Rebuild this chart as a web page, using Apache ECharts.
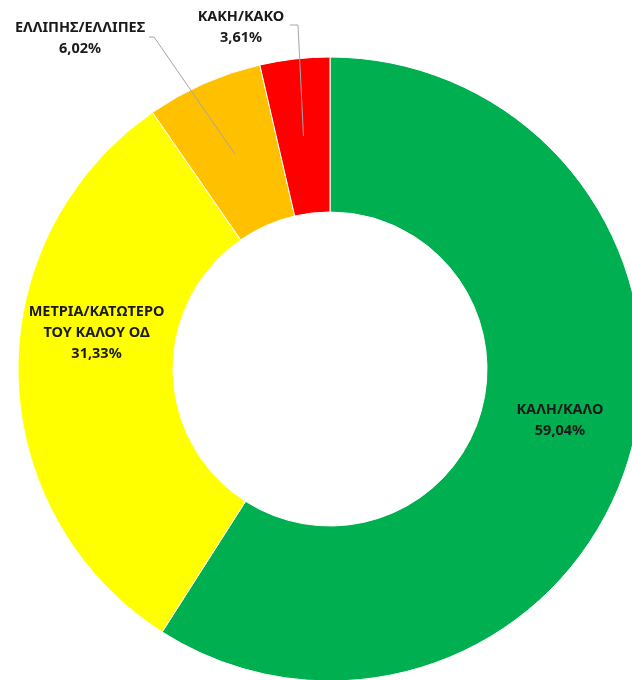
<!DOCTYPE html>
<html>
<head>
<meta charset="utf-8">
<script src="https://cdn.jsdelivr.net/npm/echarts@6/dist/echarts.min.js"></script>
<style>
  html, body { margin: 0; padding: 0; background: #fff; }
  #myChart { width: 632px; height: 680px; }
</style>
</head>
<body>
<div id="myChart"></div>
<script>
// data
var categories = ["ΚΑΛΗ/ΚΑΛΟ", "ΜΕΤΡΙΑ/ΚΑΤΩΤΕΡΟ\nΤΟΥ ΚΑΛΟΥ ΟΔ", "ΕΛΛΙΠΗΣ/ΕΛΛΙΠΕΣ", "ΚΑΚΗ/ΚΑΚΟ"];
var values = [59.04, 31.33, 6.02, 3.61];
var colors = ["#00B050", "#FFFF00", "#FFC000", "#FF0000"];

var cx = 330, cy = 369, rIn = 157, rOut = 312;
var rMid = (rIn + rOut) / 2;
var total = values.reduce(function (a, b) { return a + b; }, 0);

// mid point of a slice at half ring width (excel starts its leader lines there)
function midPoint(i) {
  var before = 0;
  for (var k = 0; k < i; k++) before += values[k];
  var ang = (before + values[i] / 2) / total * Math.PI * 2;
  return [cx + rMid * Math.sin(ang), cy - rMid * Math.cos(ang)];
}

// outside labels: label centre, leader elbow, leader end
var outside = {
  2: { x: 80, y: 38, elbow: [154, 37], end: [149, 37] },
  3: { x: 241, y: 27, elbow: [298, 25], end: [290, 25] }
};
var insideOffset = { 0: [2, -15], 1: [4, -41] };

var labelText = {
  color: "#1a1a1a",
  fontFamily: "Noto Sans",
  fontWeight: "bold",
  fontSize: 14.5,
  lineHeight: 21,
  align: "center",
  formatter: function (p) {
    return p.name + "\n" + p.value.toFixed(2).replace(".", ",") + "%";
  }
};

var chart = echarts.init(document.getElementById("myChart"));

var ringData = [], overlayData = [];
for (var i = 0; i < values.length; i++) {
  ringData.push({
    name: categories[i],
    value: values[i],
    itemStyle: { color: colors[i] },
    label: outside[i] ? { show: false } : { show: true, position: "inside", offset: insideOffset[i] }
  });
  overlayData.push({
    name: categories[i],
    value: values[i],
    label: { show: !!outside[i] },
    labelLine: { show: !!outside[i] }
  });
}

chart.setOption({
  backgroundColor: "#fff",
  animation: false,
  series: [
    {
      type: "pie",
      z: 2,
      center: [cx, cy],
      radius: [rIn, rOut],
      startAngle: 90,
      clockwise: true,
      avoidLabelOverlap: false,
      itemStyle: { borderColor: "#fff", borderWidth: 1 },
      label: labelText,
      labelLine: { show: false },
      data: ringData
    },
    {
      // transparent copy on top, only carries the outside labels and leader lines
      type: "pie",
      z: 10,
      silent: true,
      center: [cx, cy],
      radius: [rIn, rOut],
      startAngle: 90,
      clockwise: true,
      avoidLabelOverlap: false,
      itemStyle: { color: "rgba(0,0,0,0)", borderWidth: 0 },
      label: Object.assign({}, labelText, { position: "outside" }),
      labelLine: { lineStyle: { color: "#A6A6A6", width: 1 } },
      labelLayout: function (params) {
        var o = outside[params.dataIndex];
        if (!o) return {};
        return {
          x: o.x,
          y: o.y,
          align: "center",
          verticalAlign: "middle",
          labelLinePoints: [midPoint(params.dataIndex), o.elbow, o.end]
        };
      },
      data: overlayData
    }
  ]
});
</script>
</body>
</html>
